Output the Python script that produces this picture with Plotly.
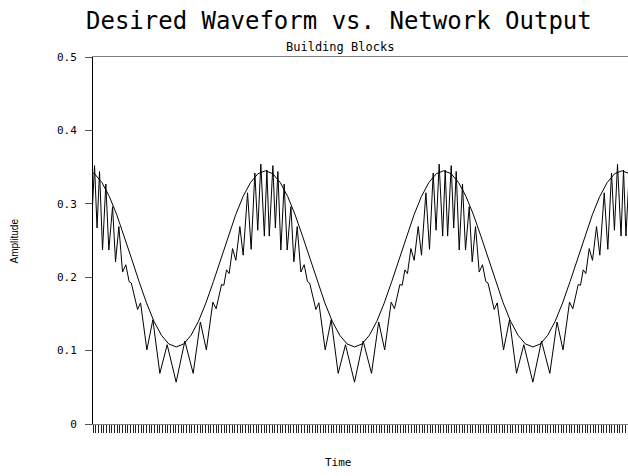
import plotly.graph_objects as go

# Desired waveform
time_desired = [-2, 0.5, 3, 5.5, 8, 10.5, 13, 15.5, 18, 20.5, 23, 25.5, 28, 30.5, 33, 35.5,
                38, 40.5, 43, 45.5, 48, 50.5, 53, 55.5, 58, 60.5, 63, 65.5, 68, 70.5, 73, 75.5,
                78, 80.5, 83, 85.5, 88, 90.5, 93, 95.5, 98, 100.5, 103, 105.5, 108, 110.5, 113,
                115.5, 118, 120.5, 123, 125.5, 128, 130.5, 133, 135.5, 138, 140.5, 143, 145.5,
                148, 150.5, 153, 155.5, 158, 160.5, 163, 165.5, 168, 170.5, 173, 175.5, 178, 180.5]
desired = [0.345, 0.341, 0.329, 0.310, 0.285, 0.256, 0.225, 0.194, 0.165, 0.140, 0.121, 0.109,
           0.105, 0.109, 0.121, 0.140, 0.165, 0.194, 0.225, 0.256, 0.285, 0.310, 0.329, 0.341,
           0.345, 0.341, 0.329, 0.310, 0.285, 0.256, 0.225, 0.194, 0.165, 0.140, 0.121, 0.109,
           0.105, 0.109, 0.121, 0.140, 0.165, 0.194, 0.225, 0.256, 0.285, 0.310, 0.329, 0.341,
           0.345, 0.341, 0.329, 0.310, 0.285, 0.256, 0.225, 0.194, 0.165, 0.140, 0.121, 0.109,
           0.105, 0.109, 0.121, 0.140, 0.165, 0.194, 0.225, 0.256, 0.285, 0.310, 0.329, 0.341,
           0.345, 0.341]

# Network output vertices
time_output = [
    -1.50, -0.69, 0.52, 1.36, 2.20, 3.21, 4.32, 5.33, 6.58, 7.58, 8.70, 9.94, 11.05, 12.16,
    12.90, 14.99, 16.00, 18.12, 20.14, 22.49, 24.95, 27.98, 30.90, 33.70, 36.12, 38.14, 40.32,
    41.43, 43.25, 44.02, 44.93, 45.81, 46.95, 48.06, 49.41, 50.52, 52.00, 53.21, 54.46, 55.43,
    56.47, 57.65,
    58.50, 59.31, 60.52, 61.36, 62.20, 63.21, 64.32, 65.33, 66.58, 67.58, 68.70, 69.94, 71.05,
    72.16, 72.90, 74.99, 76.00, 78.12, 80.14, 82.49, 84.95, 87.98, 90.90, 93.70, 96.12, 98.14,
    100.32, 101.43, 103.25, 104.02, 104.93, 105.81, 106.95, 108.06, 109.41, 110.52, 112.00,
    113.21, 114.46, 115.43, 116.47, 117.65,
    118.50, 119.31, 120.52, 121.36, 122.20, 123.21, 124.32, 125.33, 126.58, 127.58, 128.70,
    129.94, 131.05, 132.16, 132.90, 134.99, 136.00, 138.12, 140.14, 142.49, 144.95, 147.98,
    150.90, 153.70, 156.12, 158.14, 160.32, 161.43, 163.25, 164.02, 164.93, 165.81, 166.95,
    168.06, 169.41, 170.52, 172.00, 173.21, 174.46, 175.43, 176.47, 177.65,
    178.50, 179.31, 180.52]
network_output = [
    0.346, 0.256, 0.352, 0.267, 0.344, 0.237, 0.327, 0.237, 0.296, 0.221, 0.269, 0.207, 0.217,
    0.194, 0.192, 0.156, 0.165, 0.101, 0.142, 0.069, 0.108, 0.057, 0.113, 0.069, 0.139, 0.101,
    0.166, 0.157, 0.190, 0.189, 0.210, 0.205, 0.239, 0.223, 0.269, 0.230, 0.315, 0.238, 0.342,
    0.264, 0.354, 0.256,
    0.346, 0.256, 0.352, 0.267, 0.344, 0.237, 0.327, 0.237, 0.296, 0.221, 0.269, 0.207, 0.217,
    0.194, 0.192, 0.156, 0.165, 0.101, 0.142, 0.069, 0.108, 0.057, 0.113, 0.069, 0.139, 0.101,
    0.166, 0.157, 0.190, 0.189, 0.210, 0.205, 0.239, 0.223, 0.269, 0.230, 0.315, 0.238, 0.342,
    0.264, 0.354, 0.256,
    0.346, 0.256, 0.352, 0.267, 0.344, 0.237, 0.327, 0.237, 0.296, 0.221, 0.269, 0.207, 0.217,
    0.194, 0.192, 0.156, 0.165, 0.101, 0.142, 0.069, 0.108, 0.057, 0.113, 0.069, 0.139, 0.101,
    0.166, 0.157, 0.190, 0.189, 0.210, 0.205, 0.239, 0.223, 0.269, 0.230, 0.315, 0.238, 0.342,
    0.264, 0.354, 0.256,
    0.346, 0.256, 0.352]

y_ticks = [0, 0.1, 0.2, 0.3, 0.4, 0.5]
y_ticklabels = ["0", "0.1", "0.2", "0.3", "0.4", "0.5"]

fig = go.Figure()
fig.add_trace(go.Scatter(x=time_desired, y=desired, mode="lines",
                         line=dict(color="black", width=1), showlegend=False))
fig.add_trace(go.Scatter(x=time_output, y=network_output, mode="lines",
                         line=dict(color="black", width=1), showlegend=False))

mono = "DejaVu Sans Mono"
fig.update_layout(
    width=628, height=476,
    margin=dict(l=93, r=0, t=57, b=52),
    paper_bgcolor="white", plot_bgcolor="white",
    showlegend=False,
    xaxis=dict(range=[0, 180], showgrid=False, zeroline=False,
               showline=True, linecolor="#808080", linewidth=1, mirror=True,
               ticks="outside", tick0=0, dtick=0.9, ticklen=8, tickwidth=1,
               tickcolor="#222222", showticklabels=False),
    yaxis=dict(range=[0, 0.5], showgrid=False, zeroline=False,
               showline=True, linecolor="black", linewidth=1,
               ticks="outside", tickvals=y_ticks, ticktext=y_ticklabels,
               ticklen=7, tickwidth=1, tickcolor="#555555",
               ticklabelstandoff=6,
               tickfont=dict(family=mono, size=11, color="black")),
    annotations=[
        dict(text="Desired Waveform vs. Network Output", xref="paper", yref="paper",
             x=0.46, y=1.098, showarrow=False, xanchor="center", yanchor="middle",
             font=dict(family=mono, size=24, color="black")),
        dict(text="Building Blocks", xref="paper", yref="paper",
             x=0.462, y=1.027, showarrow=False, xanchor="center", yanchor="middle",
             font=dict(family=mono, size=12, color="black")),
        dict(text="Amplitude", xref="paper", yref="paper",
             x=-0.1458, y=0.5, showarrow=False, xanchor="center", yanchor="middle",
             textangle=-90, font=dict(family="Liberation Sans", size=10, color="black")),
        dict(text="Time", xref="paper", yref="paper",
             x=0.458, y=-0.106, showarrow=False, xanchor="center", yanchor="middle",
             font=dict(family=mono, size=11, color="black")),
    ],
)

fig.write_html("out.html")
